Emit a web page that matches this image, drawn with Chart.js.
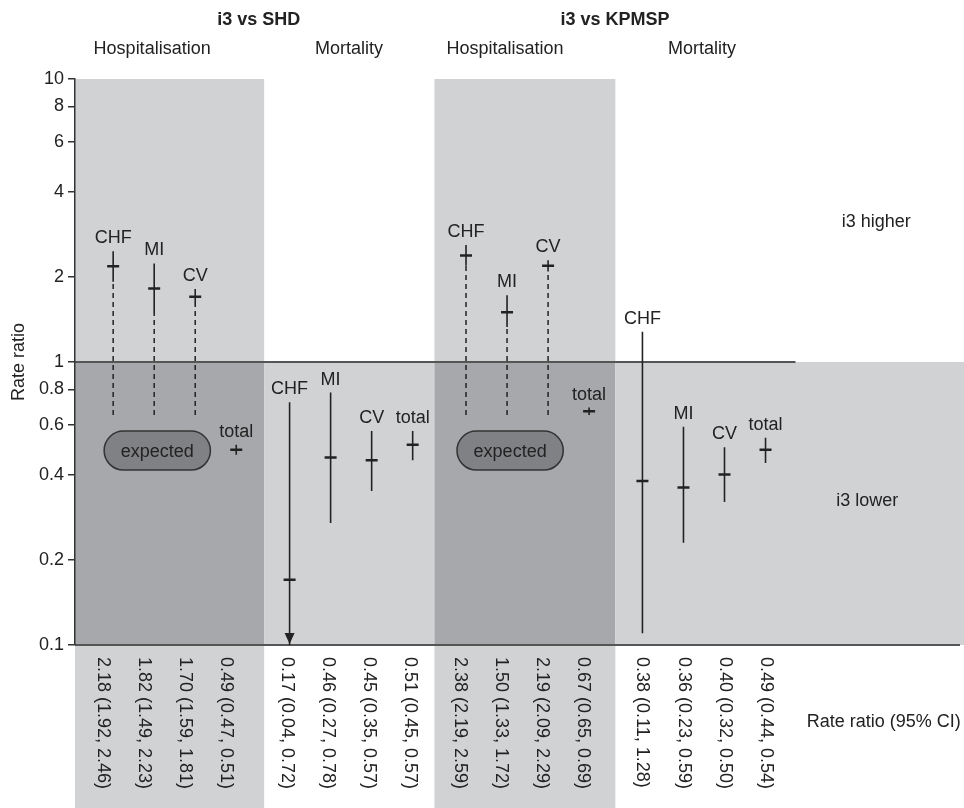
<!DOCTYPE html>
<html>
<head>
<meta charset="utf-8">
<script src="https://cdn.jsdelivr.net/npm/chart.js@4.4.1/dist/chart.umd.min.js"></script>
<style>
  body { margin: 0; background: #fff; }
  canvas { display: block; }
</style>
</head>
<body>
<canvas id="c" width="964" height="808"></canvas>
<script>
// Daten
const comparisons = ['i3 vs SHD', 'i3 vs KPMSP'];
const outcomes = ['Hospitalisation', 'Mortality', 'Hospitalisation', 'Mortality'];
const causes = ['CHF', 'MI', 'CV', 'total'];
const estimate = [2.18, 1.82, 1.70, 0.49, 0.17, 0.46, 0.45, 0.51, 2.38, 1.50, 2.19, 0.67, 0.38, 0.36, 0.40, 0.49];
const lower    = [1.92, 1.49, 1.59, 0.47, 0.04, 0.27, 0.35, 0.45, 2.19, 1.33, 2.09, 0.65, 0.11, 0.23, 0.32, 0.44];
const upper    = [2.46, 2.23, 1.81, 0.51, 0.72, 0.78, 0.57, 0.57, 2.59, 1.72, 2.29, 0.69, 1.28, 0.59, 0.50, 0.54];
const expectedTo = 0.65;              // dashed lines run down to here
const expectedRange = [0.415, 0.57];  // "expected" pill, y range
const yTicks = [0.1, 0.2, 0.4, 0.6, 0.8, 1, 2, 4, 6, 8, 10];
const yTickLabels = ['0.1', '0.2', '0.4', '0.6', '0.8', '1', '2', '4', '6', '8', '10'];

const FONT = '"Liberation Sans", Arial, sans-serif';
const FS = 18;
const INK = '#222';
const LIGHT = '#d1d2d4';
const DARK = '#a7a8ab';

const GROUP_STEP = 4.3;
const bounds = [-0.93, 3.68, 7.83, 12.24, 16.63];
const labelShift = [-10, -3, -6, 0]; // px, Spalten unten leicht versetzt
const xPos = estimate.map((_, i) => Math.floor(i / 4) * GROUP_STEP + (i % 4));
const isDashed = (i) => outcomes[Math.floor(i / 4)] === 'Hospitalisation' && causes[i % 4] !== 'total';

// Liniendaten mit Lücken (null) zwischen den Segmenten
const ciData = [];
const dashData = [];
xPos.forEach((x, i) => {
    ciData.push({ x: x, y: lower[i] }, { x: x, y: upper[i] }, { x: x, y: null });
    if (isDashed(i)) {
        dashData.push({ x: x, y: expectedTo }, { x: x, y: lower[i] }, { x: x, y: null });
    }
});
const pointData = xPos.map((x, i) => ({ x: x, y: estimate[i] }));

const decor = {
    id: 'decor',
    beforeDraw(chart) {
        const { ctx, chartArea: a, scales: { x, y } } = chart;
        const px = (v) => x.getPixelForValue(v);
        const y1 = y.getPixelForValue(1);
        ctx.save();
        for (let g = 0; g < 4; g++) {
            const l = px(bounds[g]);
            const r = g === 3 ? chart.width : px(bounds[g + 1]);
            const hosp = outcomes[g] === 'Hospitalisation';
            if (hosp) {
                ctx.fillStyle = LIGHT;
                ctx.fillRect(l, a.top, r - l, y1 - a.top);
                ctx.fillRect(l, a.bottom, r - l, chart.height - a.bottom);
                ctx.fillStyle = DARK;
                ctx.fillRect(l, y1, r - l, a.bottom - y1);
            } else {
                ctx.fillStyle = LIGHT;
                ctx.fillRect(l, y1, r - l, a.bottom - y1);
            }
        }
        // Referenzlinie bei 1 und Grundlinie bei 0.1
        ctx.strokeStyle = '#555';
        ctx.lineWidth = 2;
        ctx.beginPath();
        ctx.moveTo(a.left, y1);
        ctx.lineTo(px(bounds[4]), y1);
        ctx.moveTo(a.left, a.bottom);
        ctx.lineTo(chart.width - 4, a.bottom);
        ctx.stroke();

        // "expected" Pillen
        ctx.font = FS + 'px ' + FONT;
        ctx.textAlign = 'center';
        ctx.textBaseline = 'middle';
        outcomes.forEach((o, g) => {
            if (o !== 'Hospitalisation') return;
            const l = px(g * GROUP_STEP - 0.22), r = px(g * GROUP_STEP + 2.37);
            const t = y.getPixelForValue(expectedRange[1]), b = y.getPixelForValue(expectedRange[0]);
            const rad = (b - t) / 2;
            ctx.beginPath();
            ctx.moveTo(l + rad, t);
            ctx.lineTo(r - rad, t);
            ctx.arc(r - rad, t + rad, rad, -Math.PI / 2, Math.PI / 2);
            ctx.lineTo(l + rad, b);
            ctx.arc(l + rad, t + rad, rad, Math.PI / 2, Math.PI * 1.5);
            ctx.closePath();
            ctx.fillStyle = '#808185';
            ctx.fill();
            ctx.strokeStyle = '#333';
            ctx.lineWidth = 1.5;
            ctx.stroke();
            ctx.fillStyle = INK;
            ctx.fillText('expected', (l + r) / 2, (t + b) / 2 + 1);
        });
        ctx.restore();
    },
    afterDatasetsDraw(chart) {
        const { ctx, chartArea: a, scales: { x, y } } = chart;
        const px = (v) => x.getPixelForValue(v);
        ctx.save();
        ctx.fillStyle = INK;
        ctx.font = FS + 'px ' + FONT;
        ctx.textAlign = 'center';
        ctx.textBaseline = 'middle';

        xPos.forEach((xv, i) => {
            const cx = px(xv);
            // Beschriftung über dem Intervall
            ctx.fillText(causes[i % 4], cx, y.getPixelForValue(Math.min(upper[i], 10)) - 13);
            // Pfeil wenn untere Grenze ausserhalb
            if (lower[i] < y.min) {
                ctx.beginPath();
                ctx.moveTo(cx, a.bottom - 1);
                ctx.lineTo(cx - 5, a.bottom - 12);
                ctx.lineTo(cx + 5, a.bottom - 12);
                ctx.closePath();
                ctx.fill();
            }
            // Werte unten, gedreht
            const txt = estimate[i].toFixed(2) + ' (' + lower[i].toFixed(2) + ', ' + upper[i].toFixed(2) + ')';
            ctx.save();
            ctx.translate(cx + labelShift[Math.floor(i / 4)], a.bottom + 12);
            ctx.rotate(Math.PI / 2);
            ctx.textAlign = 'left';
            ctx.fillText(txt, 0, 0);
            ctx.restore();
        });

        // Kopfzeilen
        ctx.fillText(outcomes[0], px(0.95), 49);
        ctx.fillText(outcomes[1], px(GROUP_STEP + 1.45), 49);
        ctx.fillText(outcomes[2], px(2 * GROUP_STEP + 0.95), 49);
        ctx.fillText(outcomes[3], px(3 * GROUP_STEP + 1.45), 49);
        ctx.fillText('i3 higher', px(18.6), y.getPixelForValue(3.12));
        ctx.fillText('i3 lower', px(18.38), y.getPixelForValue(0.323));
        ctx.fillText('Rate ratio (95% CI)', px(18.78), a.bottom + 77);
        ctx.font = 'bold ' + FS + 'px ' + FONT;
        ctx.fillText(comparisons[0], px((bounds[0] + bounds[2]) / 2 + 0.1), 20);
        ctx.fillText(comparisons[1], px((bounds[2] + bounds[4]) / 2), 20);
        ctx.restore();
    }
};

new Chart(document.getElementById('c'), {
    type: 'line',
    data: {
        datasets: [{
            data: ciData,
            borderColor: INK,
            borderWidth: 1.6,
            pointRadius: 0,
            spanGaps: false
        }, {
            data: dashData,
            borderColor: INK,
            borderWidth: 1.5,
            borderDash: [5, 4],
            pointRadius: 0,
            spanGaps: false
        }, {
            data: pointData,
            showLine: false,
            pointStyle: 'line',
            pointRadius: 6,
            pointBorderWidth: 2.5,
            pointBorderColor: INK
        }]
    },
    options: {
        responsive: false,
        animation: false,
        devicePixelRatio: 1,
        layout: { padding: { top: 79, bottom: 163, left: 0, right: 0 } },
        plugins: { legend: { display: false }, tooltip: { enabled: false } },
        scales: {
            x: {
                type: 'linear',
                min: bounds[0],
                max: 20.53,
                display: false
            },
            y: {
                type: 'logarithmic',
                min: 0.1,
                max: 10,
                afterFit(scale) { scale.width = 75; },
                afterBuildTicks(scale) { scale.ticks = yTicks.map(v => ({ value: v })); },
                ticks: {
                    color: INK,
                    font: { family: FONT, size: FS },
                    padding: 4,
                    autoSkip: false,
                    callback: (v) => yTickLabels[yTicks.indexOf(v)]
                },
                grid: { drawOnChartArea: false, drawTicks: true, tickLength: 7, color: '#333', lineWidth: 1.5 },
                border: { display: true, color: '#333', width: 1.5 },
                title: {
                    display: true,
                    text: 'Rate ratio',
                    color: INK,
                    font: { family: FONT, size: FS },
                    padding: { top: 8, bottom: 0 }
                }
            }
        }
    },
    plugins: [decor]
});
</script>
</body>
</html>
